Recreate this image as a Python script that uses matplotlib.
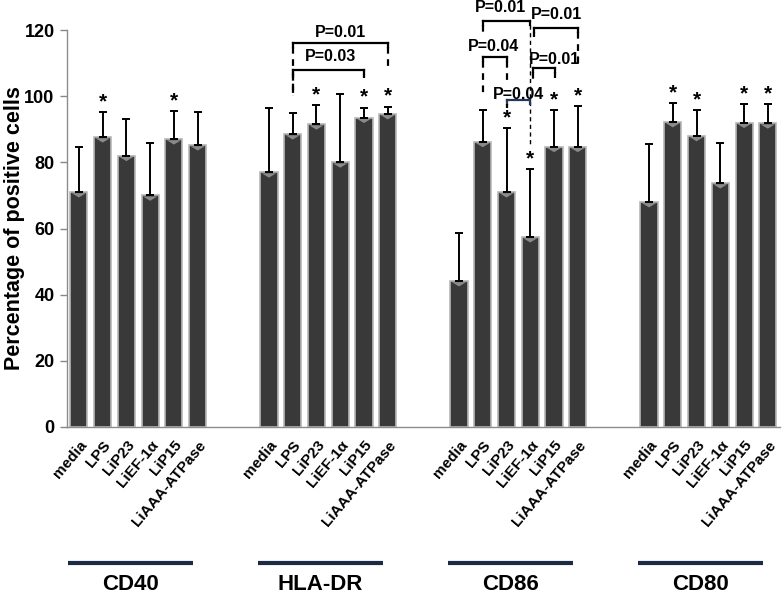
import matplotlib
matplotlib.use("Agg")
import matplotlib.pyplot as plt
import matplotlib.transforms as mtransforms
import numpy as np

plt.rcParams['font.family'] = ['Liberation Sans', 'DejaVu Sans']

groups = ['CD40', 'HLA-DR', 'CD86', 'CD80']
treatments = ['media', 'LPS', 'LiP23', 'LiEF-1α', 'LiP15', 'LiAAA-ATPase']

cd40 = [71.0, 87.6, 82.0, 70.0, 87.0, 85.2]
cd40_err = [13.6, 7.6, 11.0, 16.0, 8.5, 10.0]
hla_dr = [77.0, 88.5, 91.5, 80.0, 93.5, 94.6]
hla_dr_err = [19.4, 6.3, 5.7, 20.7, 3.0, 2.2]
cd86 = [44.1, 86.2, 71.0, 57.4, 84.7, 84.7]
cd86_err = [14.5, 9.6, 19.4, 20.5, 11.1, 12.3]
cd80 = [68.0, 92.2, 88.0, 73.7, 92.0, 91.8]
cd80_err = [17.5, 5.6, 7.8, 12.2, 5.6, 5.7]

cd40_star = [0, 1, 0, 0, 1, 0]
hla_dr_star = [0, 0, 1, 0, 1, 1]
cd86_star = [0, 0, 1, 1, 1, 1]
cd80_star = [0, 1, 1, 0, 1, 1]

values = [cd40, hla_dr, cd86, cd80]
errors = [cd40_err, hla_dr_err, cd86_err, cd80_err]
stars = [cd40_star, hla_dr_star, cd86_star, cd80_star]

fig = plt.figure(figsize=(7.84, 5.96), dpi=100)
ax = fig.add_axes([0.0855, 0.2836, 0.909, 0.666])

group_gap = 8
bar_w = 0.72
tri_marker = [(-1.0, 0.0), (1.0, 0.0), (0.0, -0.6), (-1.0, 0.0)]
all_x, all_labels = [], []
for g, (vals, errs, st) in enumerate(zip(values, errors, stars)):
    x = np.arange(len(vals)) + g * group_gap
    ax.bar(x, vals, width=bar_w, color='#393939', edgecolor='#b8b8b8',
           linewidth=1.2, zorder=2)
    ax.scatter(x, np.array(vals) - 0.3, marker=tri_marker, s=110, color='#8a8a8a',
               edgecolors='none', zorder=3)
    ax.errorbar(x, vals, yerr=[np.zeros(len(errs)), errs], fmt='none',
                ecolor='black', elinewidth=1.4, capsize=3, capthick=1.4, zorder=4)
    for xi, v, e, s in zip(x, vals, errs, st):
        if s:
            ax.text(xi, v + e + 0.3, '*', ha='center', va='bottom',
                    fontsize=15, fontweight='bold', zorder=5)
    all_x.extend(x)
    all_labels.extend(treatments)

ax.set_xlim(-0.5, 29.5)
ax.set_ylim(0, 120)
ax.set_yticks(np.arange(0, 121, 20))
ax.set_yticklabels([str(v) for v in range(0, 121, 20)], fontsize=13,
                   fontweight='bold')
ax.set_xticks(all_x)
ax.set_xticklabels(all_labels, rotation=50, ha='right', rotation_mode='anchor',
                   fontsize=11, fontweight='bold')
ax.tick_params(axis='x', length=0, pad=8)
ax.tick_params(axis='y', length=5, color='#888888', width=1, pad=4)
for side in ['top', 'right']:
    ax.spines[side].set_visible(False)
for side in ['left', 'bottom']:
    ax.spines[side].set_color('#8c8c8c')
    ax.spines[side].set_linewidth(1.0)
ax.set_ylabel('Percentage of positive cells', fontsize=15.5, fontweight='bold')
ax.yaxis.label.set_va('center')
ax.yaxis.set_label_coords(-0.074, 0.5)

# group lines & labels
trans = mtransforms.blended_transform_factory(ax.transData, ax.transAxes)
for g, name in enumerate(groups):
    x0 = g * group_gap - 0.45
    x1 = g * group_gap + 4.8
    ax.plot([x0, x1], [-0.3426, -0.3426], color='#1c2b45', lw=3,
            transform=trans, clip_on=False, solid_capstyle='butt')
    ax.text((x0 + x1) / 2, -0.397, name, transform=trans, ha='center',
            va='center', fontsize=16, fontweight='bold')

# significance brackets: (text, x1, x2, y, left_bottom, right_bottom, text_x, text_y, color)
brackets = [
    ('P=0.01', 9, 13, 116.1, 100.0, 108.0, 11.0, 119.3, 'black'),
    ('P=0.03', 9, 12, 107.9, 100.0, 105.5, 10.6, 112.0, 'black'),
    ('P=0.04', 17, 18, 111.9, 100.4, 104.9, 17.45, 115.0, 'black'),
    ('P=0.01', 17, 19, 122.7, 119.0, 84.6, 17.75, 126.8, 'black'),
    ('P=0.01', 19.15, 21, 120.6, 117.8, 108.5, 20.1, 124.6, 'black'),
    ('P=0.01', 19.1, 20.05, 108.5, 104.9, 105.5, 20.0, 111.2, 'black'),
    ('P=0.04', 18, 19, 98.9, 96.4, 98.9, 18.5, 100.6, '#26385a'),
]
for txt, x1, x2, y, lb, rb, tx, ty, col in brackets:
    ax.plot([x1, x2], [y, y], color=col, lw=1.6, clip_on=False, zorder=6)
    ax.plot([x1, x1], [y, y - 1.2], color=col, lw=1.6, clip_on=False, zorder=6)
    ax.plot([x2, x2], [y, y - 1.2], color=col, lw=1.6, clip_on=False, zorder=6)
    if y - lb > 1.2:
        ax.plot([x1, x1], [y - 1.2, lb], color='black', lw=1.6, ls=(0, (3, 2.5)),
                clip_on=False, zorder=6)
    if y - rb > 1.2:
        ax.plot([x2, x2], [y - 1.2, rb], color='black', lw=1.6 if y - rb < 20 else 1.0,
                ls=(0, (3, 2.5)), clip_on=False, zorder=6)
    ax.text(tx, ty, txt, ha='center', va='center', fontsize=11.5,
            fontweight='bold', zorder=7)

fig.savefig('out.png', dpi=100)
